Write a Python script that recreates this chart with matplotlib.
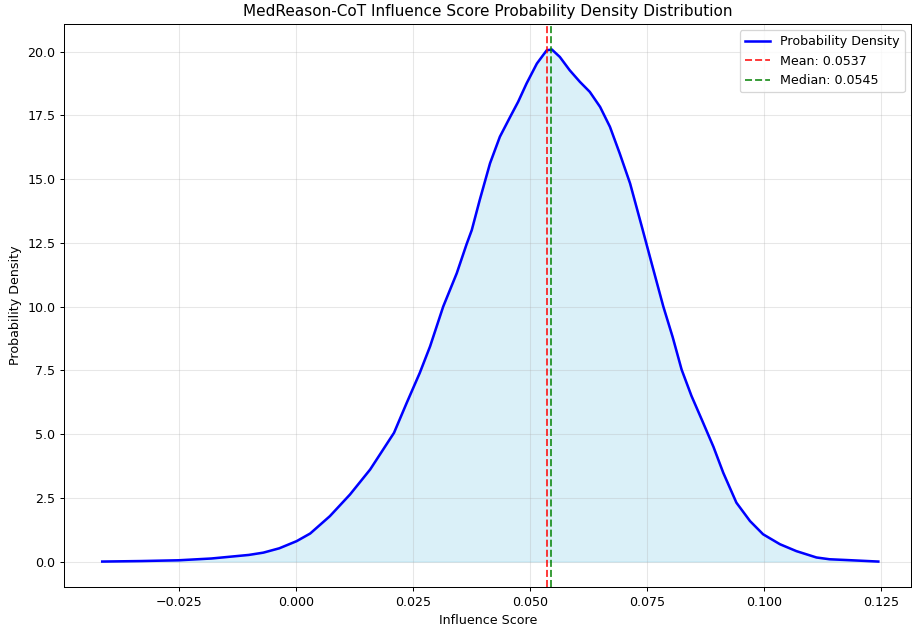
import matplotlib
matplotlib.use("Agg")
import matplotlib.pyplot as plt

influence_score = [
    -0.0413, -0.0330, -0.0250, -0.0180, -0.0140, -0.0100, -0.0069, -0.0035,
    0.0002, 0.0031, 0.0073, 0.0116, 0.0159, 0.0187, 0.0210, 0.0237,
    0.0265, 0.0287, 0.0315, 0.0344, 0.0365, 0.0376, 0.0393, 0.0415,
    0.0436, 0.0458, 0.0475, 0.0493, 0.0515, 0.0536, 0.0547, 0.0564,
    0.0585, 0.0607, 0.0628, 0.0650, 0.0671, 0.0692, 0.0714, 0.0739,
    0.0760, 0.0785, 0.0805, 0.0824, 0.0845, 0.0867, 0.0892, 0.0913,
    0.0941, 0.0970, 0.0998, 0.1034, 0.1069, 0.1112, 0.1140, 0.1176,
    0.1210, 0.1244,
]
density = [
    0.00, 0.02, 0.05, 0.12, 0.19, 0.26, 0.35, 0.52,
    0.80, 1.10, 1.78, 2.63, 3.61, 4.40, 5.05, 6.22,
    7.40, 8.44, 10.00, 11.31, 12.45, 13.00, 14.18, 15.62,
    16.66, 17.44, 18.03, 18.75, 19.53, 20.05, 20.08, 19.79,
    19.27, 18.81, 18.42, 17.83, 17.05, 16.00, 14.83, 13.14,
    11.70, 10.00, 8.80, 7.53, 6.50, 5.57, 4.50, 3.48,
    2.31, 1.59, 1.07, 0.68, 0.41, 0.16, 0.09, 0.06,
    0.03, 0.00,
]
mean_score = 0.0537
median_score = 0.0545

fig, ax = plt.subplots(figsize=(10, 6.908), dpi=91.2)
fig.subplots_adjust(left=0.0705, right=0.999, top=0.962, bottom=0.068)

ax.plot(influence_score, density, color="blue", linewidth=2, label="Probability Density")
ax.fill_between(influence_score, density, color="skyblue", alpha=0.3)
ax.axvline(mean_score, color="red", linestyle="--", alpha=0.8, linewidth=1.5,
           label=f"Mean: {mean_score:.4f}")
ax.axvline(median_score, color="green", linestyle="--", alpha=0.8, linewidth=1.5,
           label=f"Median: {median_score:.4f}")

ax.set_xlim(-0.0494, 0.1314)
ax.set_title("MedReason-CoT Influence Score Probability Density Distribution", fontsize=12)
ax.set_xlabel("Influence Score")
ax.set_ylabel("Probability Density")
ax.legend(loc="upper right")
ax.grid(True, alpha=0.3)

fig.savefig("out.png", dpi=91.2)
